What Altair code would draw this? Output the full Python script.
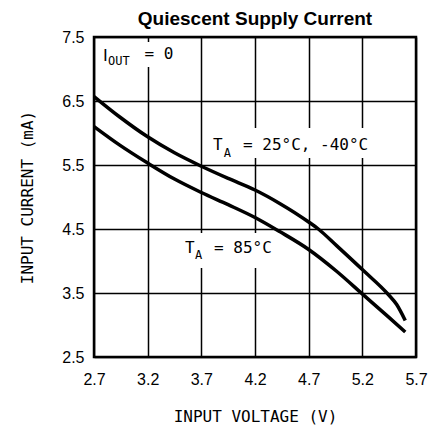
import altair as alt
import pandas as pd

# Data
v_hi = [2.70, 2.94, 3.20, 3.45, 3.70, 3.95, 4.20, 4.43, 4.70, 4.79, 4.96, 5.21, 5.44, 5.52, 5.60]
i_hi = [6.57, 6.25, 5.94, 5.69, 5.48, 5.29, 5.11, 4.90, 4.61, 4.50, 4.24, 3.85, 3.48, 3.32, 3.07]
v_lo = [2.70, 2.94, 3.20, 3.45, 3.70, 3.95, 4.20, 4.43, 4.70, 4.96, 5.21, 5.44, 5.60]
i_lo = [6.10, 5.81, 5.53, 5.28, 5.07, 4.88, 4.68, 4.46, 4.18, 3.84, 3.47, 3.13, 2.89]
x_ticks = [2.7, 3.2, 3.7, 4.2, 4.7, 5.2, 5.7]
y_ticks = [2.5, 3.5, 4.5, 5.5, 6.5, 7.5]

series = pd.concat([
    pd.DataFrame({"v": v_hi, "i": i_hi, "s": "hi"}),
    pd.DataFrame({"v": v_lo, "i": i_lo, "s": "lo"}),
])

# annotation labels (data coordinates)
main_txt = pd.DataFrame({
    "v": [3.170, 3.809, 4.088, 3.548, 3.818],
    "i": [7.156, 5.734, 5.734, 4.125, 4.125],
    "t": ["= 0", "T", "= 25°C,  -40°C", "T", "= 85°C"],
})
i_txt = pd.DataFrame({"v": [2.784], "i": [7.125], "t": ["I"]})
sub_txt = pd.DataFrame({
    "v": [2.830, 3.910, 3.640],
    "i": [7.060, 5.625, 4.030],
    "t": ["OUT", "A", "A"],
})
# white label backgrounds that break the grid under the annotations
boxes = pd.DataFrame({
    "v1": [2.756, 3.734, 3.520], "v2": [3.501, 5.411, 4.433],
    "i1": [7.422, 6.078, 4.438], "i2": [7.031, 5.609, 3.891],
})

FONT_T = "DejaVu Sans Mono"
xs = alt.Scale(domain=[2.7, 5.7], nice=False, zero=False)
ys = alt.Scale(domain=[2.5, 7.5], nice=False, zero=False)

base_x = alt.X("v:Q", scale=xs, title="INPUT VOLTAGE (V)",
               axis=alt.Axis(values=x_ticks, format=".1f", grid=True, gridColor="black",
                             gridWidth=1.5, ticks=False, domain=False, labelFont="Liberation Sans",
                             labelFontSize=16, labelColor="black", labelPadding=14,
                             titleFont=FONT_T, titleFontSize=16, titleFontWeight="normal",
                             titleColor="black", titlePadding=21, labelFlush=False))
base_y = alt.Y("i:Q", scale=ys, title="INPUT CURRENT (mA)",
               axis=alt.Axis(values=y_ticks, format=".1f", grid=True, gridColor="black",
                             gridWidth=1.5, ticks=False, domain=False, labelFont="Liberation Sans",
                             labelFontSize=16, labelColor="black", labelPadding=10,
                             titleFont=FONT_T, titleFontSize=16, titleFontWeight="normal",
                             titleColor="black", titlePadding=26, labelFlush=False))

bg = alt.Chart(boxes).mark_rect(color="white").encode(
    x=alt.X("v1:Q", scale=xs), x2="v2:Q", y=alt.Y("i1:Q", scale=ys), y2="i2:Q")

lines = alt.Chart(series).mark_line(color="black", strokeWidth=3.5, interpolate="monotone").encode(
    x=base_x, y=base_y, detail="s:N")

def txt(df, font, size):
    return alt.Chart(df).mark_text(font=font, fontSize=size, align="left",
                                   baseline="alphabetic", color="black").encode(
        x=alt.X("v:Q", scale=xs), y=alt.Y("i:Q", scale=ys), text="t:N")

chart = alt.layer(
    bg, lines, txt(main_txt, FONT_T, 16), txt(i_txt, "DejaVu Sans", 16), txt(sub_txt, FONT_T, 12)
).properties(
    width=322, height=320,
    autosize=alt.AutoSizeParams(type="none"),
    padding={"left": 86, "top": 29, "right": 14, "bottom": 68},
    title=alt.TitleParams("Quiescent Supply Current", font="Liberation Sans", fontSize=19,
                          fontWeight="bold", color="black", anchor="middle", offset=0),
).configure_view(stroke="black", strokeWidth=2.5)

chart.save("out.html", embed_options={"renderer": "svg", "actions": False})
